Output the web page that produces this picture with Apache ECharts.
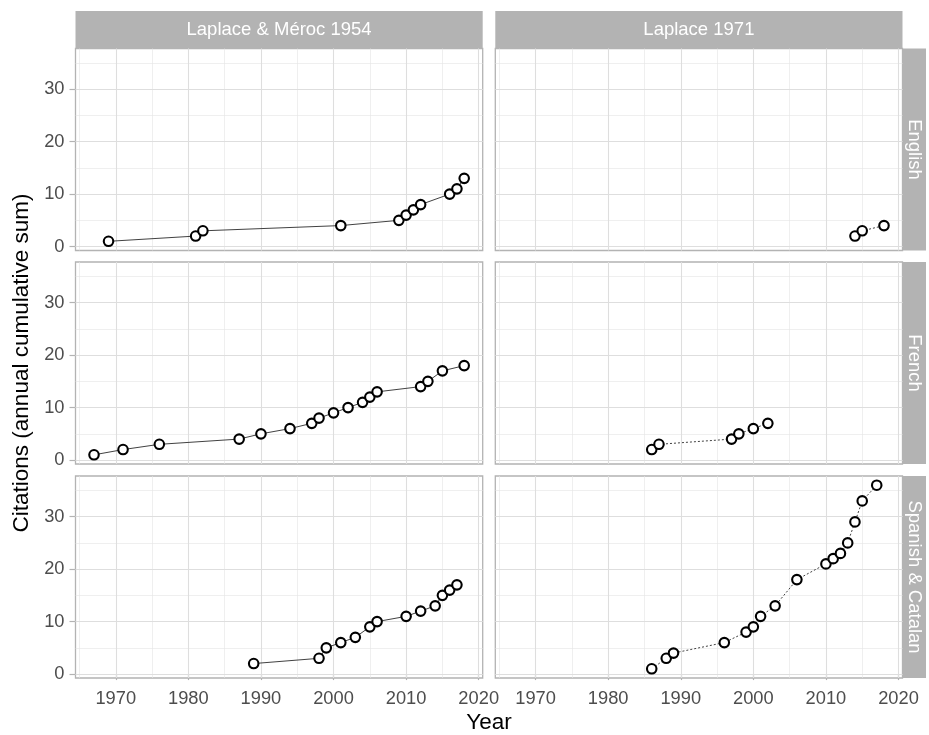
<!DOCTYPE html>
<html><head><meta charset="utf-8">
<script src="https://cdn.jsdelivr.net/npm/echarts@6/dist/echarts.min.js"></script>
<style>html,body{margin:0;padding:0;background:#fff}#c{width:929px;height:735px}</style>
</head><body><div id="c"></div>
<script>
const sources = ['Laplace & Méroc 1954', 'Laplace 1971'];
const languages = ['English', 'French', 'Spanish & Catalan'];
const xMajorTicks = [1970, 1980, 1990, 2000, 2010, 2020];
const xMinorTicks = [1965, 1975, 1985, 1995, 2005, 2015];
const yMajorTicks = [0, 10, 20, 30];
const yMinorTicks = [5, 15, 25, 35];

const en1954Years = [1969, 1981, 1982, 2001, 2009, 2010, 2011, 2012, 2016, 2017, 2018];
const en1954Cites = [1, 2, 3, 4, 5, 6, 7, 8, 10, 11, 13];
const en1971Years = [2014, 2015, 2018];
const en1971Cites = [2, 3, 4];
const fr1954Years = [1967, 1971, 1976, 1987, 1990, 1994, 1997, 1998, 2000, 2002, 2004, 2005, 2006, 2012, 2013, 2015, 2018];
const fr1954Cites = [1, 2, 3, 4, 5, 6, 7, 8, 9, 10, 11, 12, 13, 14, 15, 17, 18];
const fr1971Years = [1986, 1987, 1997, 1998, 2000, 2002];
const fr1971Cites = [2, 3, 4, 5, 6, 7];
const es1954Years = [1989, 1998, 1999, 2001, 2003, 2005, 2006, 2010, 2012, 2014, 2015, 2016, 2017];
const es1954Cites = [2, 3, 5, 6, 7, 9, 10, 11, 12, 13, 15, 16, 17];
const es1971Years = [1986, 1988, 1989, 1996, 1999, 2000, 2001, 2003, 2006, 2010, 2011, 2012, 2013, 2014, 2015, 2017];
const es1971Cites = [1, 3, 4, 6, 8, 9, 11, 13, 18, 21, 22, 23, 25, 29, 33, 36];

const panelData = [
  [[en1954Years, en1954Cites], [en1971Years, en1971Cites]],
  [[fr1954Years, fr1954Cites], [fr1971Years, fr1971Cites]],
  [[es1954Years, es1954Cites], [es1971Years, es1971Cites]]
];

// layout
const colLeft = [75.5, 495.3];
const panelW = 407.2;
const rowTop = [48.5, 262, 476];
const panelH = 202;
const stripTop = 11;
const stripRightW = 23.5;
const FONT = '"Liberation Sans", Arial, sans-serif';
const TICKFS = 18.3;
const STRIPFS = 18.5;
const TITLEFS = 22.5;

const grids = [], xAxes = [], yAxes = [], series = [], graphics = [];
let gi = 0;
for (let r = 0; r < 3; r++) {
  for (let c = 0; c < 2; c++) {
    grids.push({
      left: colLeft[c], top: rowTop[r], width: panelW, height: panelH,
      show: true, borderColor: '#b3b3b3', borderWidth: 1.3, backgroundColor: 'transparent',
      containLabel: false
    });
    xAxes.push({
      type: 'value', gridIndex: gi, min: 1964.45, max: 2020.55,
      axisLine: { show: false },
      splitLine: { show: false },
      axisTick: { show: r === 2, length: 6, lineStyle: { color: '#b3b3b3', width: 1.2 }, customValues: xMajorTicks },
      axisLabel: { show: r === 2, color: '#4d4d4d', fontSize: TICKFS, fontFamily: FONT, margin: 12,
        customValues: xMajorTicks, formatter: v => String(v) }
    });
    yAxes.push({
      type: 'value', gridIndex: gi, min: -0.75, max: 37.75,
      axisLine: { show: false },
      splitLine: { show: false },
      axisTick: { show: c === 0, length: 6, lineStyle: { color: '#b3b3b3', width: 1.2 }, customValues: yMajorTicks },
      axisLabel: { show: c === 0, color: '#4d4d4d', fontSize: TICKFS, fontFamily: FONT, margin: 11,
        customValues: yMajorTicks, formatter: v => String(v) },
      name: (c === 0 && r === 1) ? 'Citations (annual cumulative sum)' : '',
      nameLocation: 'middle', nameGap: 42, nameRotate: 90,
      nameTextStyle: { color: '#000', fontSize: TITLEFS, fontFamily: FONT }
    });
    const gl = [];
    xMinorTicks.forEach(v => gl.push({ xAxis: v, lineStyle: { width: 0.6, color: '#e4e4e4' } }));
    yMinorTicks.forEach(v => gl.push({ yAxis: v, lineStyle: { width: 0.6, color: '#e4e4e4' } }));
    xMajorTicks.forEach(v => gl.push({ xAxis: v, lineStyle: { width: 1.1, color: '#dedede' } }));
    yMajorTicks.forEach(v => gl.push({ yAxis: v, lineStyle: { width: 1.1, color: '#dedede' } }));
    series.push({
      type: 'line', xAxisIndex: gi, yAxisIndex: gi, data: [], z: 1, silent: true,
      markLine: {
        silent: true, symbol: ['none', 'none'], label: { show: false }, animation: false,
        emphasis: { disabled: true }, lineStyle: { type: 'solid' }, data: gl
      }
    });
    const [yrs, vals] = panelData[r][c];
    series.push({
      type: 'line', xAxisIndex: gi, yAxisIndex: gi, z: 5,
      data: yrs.map((y, i) => [y, vals[i]]),
      symbol: 'circle', symbolSize: 9.5, showSymbol: true,
      lineStyle: { color: '#2b2b2b', width: 0.9, type: c === 0 ? 'solid' : [2, 2] },
      itemStyle: { color: '#ffffff', borderColor: '#000000', borderWidth: 2.1 },
      emphasis: { disabled: true }, animation: false
    });
    gi++;
  }
}
for (let c = 0; c < 2; c++) {
  graphics.push({
    type: 'rect', shape: { x: colLeft[c], y: stripTop, width: panelW, height: rowTop[0] - stripTop },
    style: { fill: '#b3b3b3' }, silent: true
  });
  graphics.push({
    type: 'text', x: colLeft[c] + panelW / 2, y: (stripTop + rowTop[0]) / 2,
    style: { text: sources[c], fill: '#ffffff', font: STRIPFS + 'px ' + FONT, align: 'center', verticalAlign: 'middle' },
    silent: true
  });
}
for (let r = 0; r < 3; r++) {
  const sx = colLeft[1] + panelW;
  graphics.push({
    type: 'rect', shape: { x: sx, y: rowTop[r], width: stripRightW, height: panelH },
    style: { fill: '#b3b3b3' }, silent: true
  });
  graphics.push({
    type: 'text', x: sx + stripRightW / 2, y: rowTop[r] + panelH / 2, rotation: -Math.PI / 2,
    style: { text: languages[r], fill: '#ffffff', font: STRIPFS + 'px ' + FONT, align: 'center', verticalAlign: 'middle' },
    silent: true
  });
}
graphics.push({
  type: 'text', x: (colLeft[0] + colLeft[1] + panelW) / 2, y: 723,
  style: { text: 'Year', fill: '#000', font: TITLEFS + 'px ' + FONT, align: 'center', verticalAlign: 'middle' },
  silent: true
});

const chart = echarts.init(document.getElementById('c'), null, { renderer: 'canvas' });
chart.setOption({
  backgroundColor: '#ffffff',
  animation: false,
  grid: grids, xAxis: xAxes, yAxis: yAxes, series: series, graphic: graphics
});
</script></body></html>
